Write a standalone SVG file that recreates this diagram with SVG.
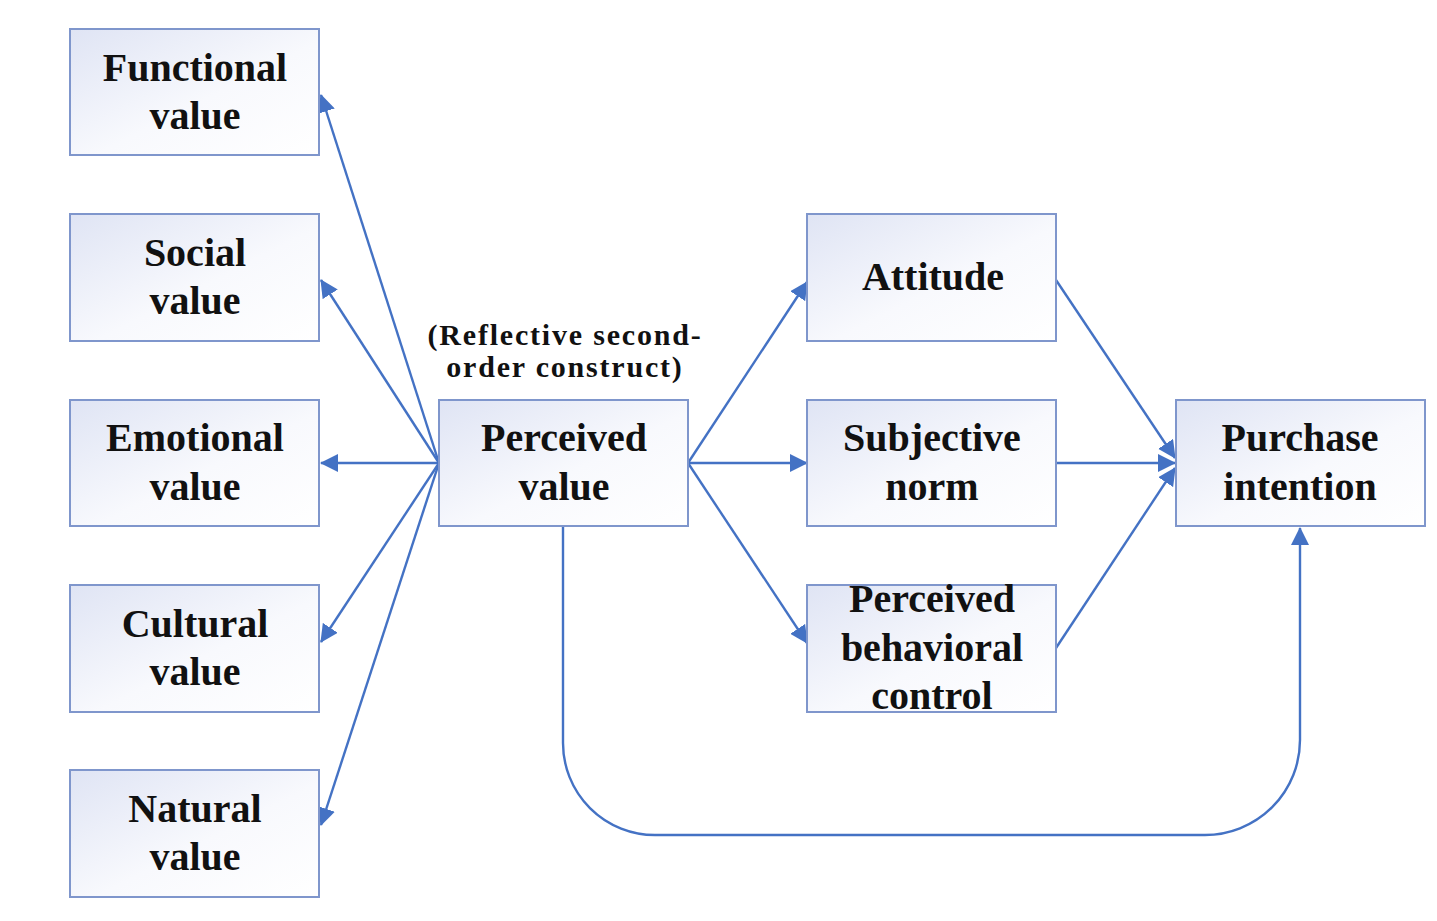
<svg xmlns="http://www.w3.org/2000/svg" width="1437" height="921" viewBox="0 0 1437 921">
<defs>
<linearGradient id="bg" x1="0" y1="0" x2="1" y2="1">
<stop offset="0" stop-color="#dfe4f4"/>
<stop offset="0.55" stop-color="#f8f9fd"/>
<stop offset="1" stop-color="#ffffff"/>
</linearGradient>
<marker id="ah" markerUnits="userSpaceOnUse" markerWidth="18" markerHeight="18" viewBox="0 0 18 18" refX="17" refY="9" orient="auto">
<path d="M0,0 L18,9 L0,18 Z" fill="#4472c4"/>
</marker>
<style>
.box{fill:url(#bg);stroke:#7f96cc;stroke-width:2}
.t{font-family:"Liberation Serif","Times New Roman",serif;font-weight:bold;font-size:40px;fill:#111;text-anchor:middle}
.n{font-family:"Liberation Serif","Times New Roman",serif;font-weight:bold;font-size:30px;fill:#111;text-anchor:middle;letter-spacing:1.8px}
.c{fill:none;stroke:#4472c4;stroke-width:2.4}
</style>
</defs>
<rect width="1437" height="921" fill="#ffffff"/>
<g id="connectors">
<line class="c" x1="439" y1="463" x2="321" y2="95" marker-end="url(#ah)"/>
<line class="c" x1="439" y1="463" x2="321" y2="280" marker-end="url(#ah)"/>
<line class="c" x1="439" y1="463" x2="321" y2="463" marker-end="url(#ah)"/>
<line class="c" x1="439" y1="463" x2="321" y2="642" marker-end="url(#ah)"/>
<line class="c" x1="439" y1="463" x2="321" y2="825" marker-end="url(#ah)"/>
<line class="c" x1="688" y1="463" x2="807" y2="282" marker-end="url(#ah)"/>
<line class="c" x1="688" y1="463" x2="807" y2="463" marker-end="url(#ah)"/>
<line class="c" x1="688" y1="463" x2="807" y2="643" marker-end="url(#ah)"/>
<line class="c" x1="1056" y1="280" x2="1175" y2="458" marker-end="url(#ah)"/>
<line class="c" x1="1056" y1="463" x2="1175" y2="463" marker-end="url(#ah)"/>
<line class="c" x1="1056" y1="648" x2="1175" y2="468" marker-end="url(#ah)"/>
<path class="c" d="M563,526 L563,743 A92,92 0 0 0 655,835 L1205,835 A95,95 0 0 0 1300,740 L1300,528" marker-end="url(#ah)"/>
</g>
<g id="functional"><rect class="box" x="70" y="29" width="249" height="126"/><text class="t" x="195" y="81">Functional</text><text class="t" x="195" y="129">value</text></g>
<g id="social"><rect class="box" x="70" y="214" width="249" height="127"/><text class="t" x="195" y="266">Social</text><text class="t" x="195" y="314">value</text></g>
<g id="emotional"><rect class="box" x="70" y="400" width="249" height="126"/><text class="t" x="195" y="451">Emotional</text><text class="t" x="195" y="500">value</text></g>
<g id="cultural"><rect class="box" x="70" y="585" width="249" height="127"/><text class="t" x="195" y="637">Cultural</text><text class="t" x="195" y="685">value</text></g>
<g id="natural"><rect class="box" x="70" y="770" width="249" height="127"/><text class="t" x="195" y="822">Natural</text><text class="t" x="195" y="870">value</text></g>
<g id="perceived-value"><rect class="box" x="439" y="400" width="249" height="126"/><text class="t" x="564" y="451">Perceived</text><text class="t" x="564" y="500">value</text></g>
<g id="construct-note"><text class="n" x="565" y="345">(Reflective second-</text><text class="n" x="565" y="377">order construct)</text></g>
<g id="attitude"><rect class="box" x="807" y="214" width="249" height="127"/><text class="t" x="933" y="290">Attitude</text></g>
<g id="subjective-norm"><rect class="box" x="807" y="400" width="249" height="126"/><text class="t" x="932" y="451">Subjective</text><text class="t" x="932" y="500">norm</text></g>
<g id="pbc"><rect class="box" x="807" y="585" width="249" height="127"/><text class="t" x="932" y="612">Perceived</text><text class="t" x="932" y="661">behavioral</text><text class="t" x="932" y="709">control</text></g>
<g id="purchase-intention"><rect class="box" x="1176" y="400" width="249" height="126"/><text class="t" x="1300" y="451">Purchase</text><text class="t" x="1300" y="500">intention</text></g>
</svg>
